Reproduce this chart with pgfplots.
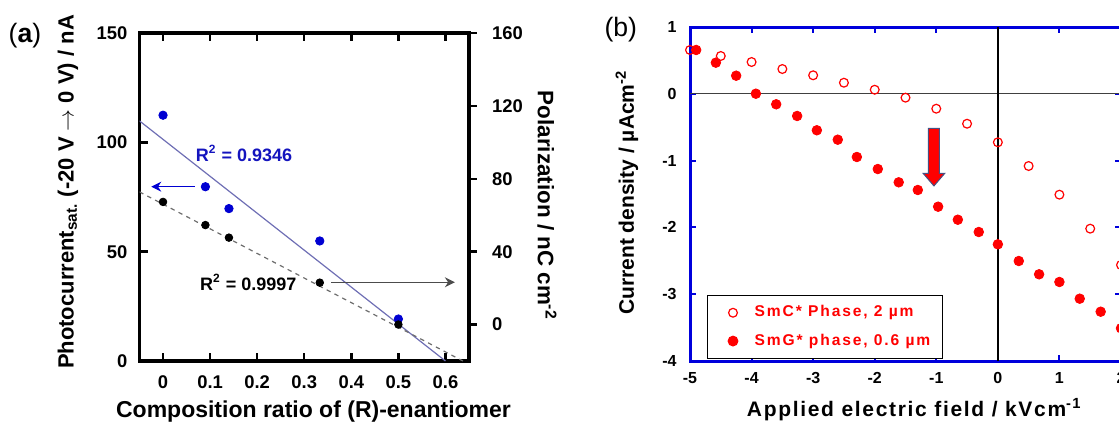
\documentclass[border=0pt]{standalone}
\usepackage{fontspec}
\setmainfont{Liberation Sans}
\usepackage{pgfplots}
\pgfplotsset{compat=1.18}
\usetikzlibrary{arrows.meta}

\definecolor{ptblue}{RGB}{0,0,210}
\definecolor{fitblue}{RGB}{110,110,180}
\definecolor{txtblue}{RGB}{20,20,190}
\definecolor{dashgray}{RGB}{110,110,110}
\definecolor{frameblue}{RGB}{0,0,220}
\definecolor{arrowedge}{RGB}{70,80,130}

\begin{document}
\begin{tikzpicture}
\useasboundingbox (0pt,0pt) rectangle (559.5pt,-214pt);
\clip (0pt,0pt) rectangle (559.5pt,-214pt);

% ---------------- Panel (a): left axis (photocurrent) ----------------
\begin{axis}[
  at={(69.75pt,-180.5pt)}, anchor=south west,
  scale only axis, width=164.75pt, height=164pt,
  xmin=-0.05, xmax=0.65, ymin=0, ymax=150,
  xtick={0,0.1,0.2,0.3,0.4,0.5,0.6},
  xticklabels={0,0.1,0.2,0.3,0.4,0.5,0.6},
  ytick={0,50,100,150},
  xtick pos=both, ytick pos=left,
  tick align=inside,
  major tick length=4pt,
  axis line style={line width=1.6pt},
  tick style={black, line width=1.2pt},
  /pgf/number format/assume math mode=true,
  ticklabel style={font=\bfseries\fontsize{9.2}{11}\selectfont},
  xticklabel style={yshift=-3.7pt},
  yticklabel style={xshift=-2.5pt},
]
\addplot[fitblue, line width=0.6pt] coordinates {(-0.05,109.8) (0.6,0)};
\addplot[only marks, mark=*, mark size=2.1pt, color=ptblue] coordinates {
  (0,112.4) (0.09,79.7) (0.14,69.7) (0.333,54.9) (0.5,19.2)};
\node[anchor=west, inner sep=0pt, text=txtblue, font=\bfseries\fontsize{9}{10}\selectfont]
  at (axis cs:0.069,95) {R\textsuperscript{2} = 0.9346};
\draw[-{Stealth[length=5pt,width=5pt]}, ptblue, line width=0.6pt]
  (axis cs:0.067,79.7) -- (axis cs:-0.025,79.7);
\end{axis}

% ---------------- Panel (a): right axis (polarization) ----------------
\begin{axis}[
  at={(69.75pt,-180.5pt)}, anchor=south west,
  scale only axis, width=164.75pt, height=164pt,
  xmin=-0.05, xmax=0.65, ymin=-20, ymax=160,
  axis x line=none, axis y line*=right,
  ytick={0,40,80,120,160},
  tick align=outside,
  major tick length=4pt,
  axis line style={line width=1.6pt, -},
  tick style={black, line width=1.2pt},
  /pgf/number format/assume math mode=true,
  ticklabel style={font=\bfseries\fontsize{9.2}{11}\selectfont},
  yticklabel style={xshift=4pt},
]
\addplot[dashgray, line width=0.6pt, dash pattern=on 2.2pt off 2.2pt] coordinates {(-0.05,72.8) (0.637,-20)};
\addplot[only marks, mark=*, mark size=1.9pt, black] coordinates {
  (0,67.3) (0.09,54.6) (0.14,47.7) (0.333,23.0) (0.5,0)};
\node[anchor=west, inner sep=0pt, text=black, font=\bfseries\fontsize{9}{10}\selectfont]
  at (axis cs:0.078,23.2) {R\textsuperscript{2} = 0.9997};
\draw[-{Stealth[length=5pt,width=5pt]}, black!70, line width=0.6pt]
  (axis cs:0.357,23.2) -- (axis cs:0.62,23.2);
\end{axis}

% ---------------- Panel (b) ----------------
\begin{axis}[
  at={(345pt,-180.5pt)}, anchor=south west,
  scale only axis, width=215.5pt, height=167pt,
  xmin=-5, xmax=2, ymin=-4, ymax=1,
  xtick={-5,-4,-3,-2,-1,0,1,2},
  ytick={-4,-3,-2,-1,0,1},
  xtick pos=both, ytick pos=both,
  tick align=inside,
  major tick length=3pt,
  axis line style={frameblue, line width=1.5pt},
  tick style={frameblue, line width=1pt},
  /pgf/number format/assume math mode=true,
  ticklabel style={font=\bfseries\fontsize{8}{9.6}\selectfont},
  xticklabel style={yshift=-2.2pt},
  yticklabel style={xshift=-3.2pt},
  legend cell align=left,
  legend image code/.code={\path (0cm,0cm) (0.6cm,0cm); \draw[#1] plot coordinates {(0.3cm,0cm)};},
  legend style={at={(rel axis cs:0.0388,0.1976)}, anchor=north west,
    draw=black, line width=0.6pt, inner xsep=4pt, inner ysep=3pt, row sep=3pt,
    font=\bfseries\fontsize{7.8}{9}\selectfont\addfontfeatures{LetterSpace=12},
    text=red},
]
\addplot[forget plot, black!75, line width=0.6pt] coordinates {(-5,0) (2,0)};
\addplot[forget plot, black, line width=1.2pt] coordinates {(0,-4) (0,1)};
\addplot[only marks, mark=o, mark size=2.2pt, red, mark options={line width=0.6pt}] coordinates {
  (-5.0,0.656) (-4.5,0.566) (-4.0,0.476) (-3.5,0.371) (-3.0,0.277)
  (-2.5,0.166) (-2.0,0.061) (-1.5,-0.058) (-1.0,-0.223) (-0.5,-0.448)
  (0.0,-0.726) (0.5,-1.081) (1.0,-1.510) (1.5,-2.019) (2.0,-2.563)};
\addlegendentry{SmC* Phase, 2 µm}
\addplot[only marks, mark=*, mark size=2.4pt, red] coordinates {
  (-4.90,0.656) (-4.58,0.466) (-4.25,0.271) (-3.93,0.0015) (-3.60,-0.157)
  (-3.26,-0.332) (-2.94,-0.546) (-2.60,-0.687) (-2.29,-0.946) (-1.95,-1.126)
  (-1.61,-1.325) (-1.30,-1.440) (-0.97,-1.690) (-0.65,-1.885) (-0.31,-2.069)
  (0.0,-2.253) (0.34,-2.503) (0.67,-2.702) (1.0,-2.817) (1.33,-3.067)
  (1.67,-3.262) (2.0,-3.510)};
\addlegendentry{SmG* phase, 0.6 µm}
\draw[fill=red, draw=arrowedge, line width=0.5pt]
  (axis cs:-1.127,-0.516) -- (axis cs:-0.949,-0.516) -- (axis cs:-0.949,-1.19)
  -- (axis cs:-0.862,-1.19) -- (axis cs:-1.038,-1.379) -- (axis cs:-1.214,-1.19)
  -- (axis cs:-1.127,-1.19) -- cycle;
\end{axis}

% ---------------- Labels ----------------
\node[font=\fontsize{13.3}{16}\selectfont] at (12.5pt,-17.75pt) {(\textbf{a})};
\node[font=\fontsize{13.3}{16}\selectfont] at (310.4pt,-14.6pt) {(b)};

\node[rotate=90, font=\bfseries\fontsize{11}{13}\selectfont] at (34pt,-96pt)
  {Photocurrent\textsubscript{sat.} (-20 V $\rightarrow$ 0 V) / nA};
\node[font=\bfseries\fontsize{11.5}{14}\selectfont] at (156.75pt,-206pt)
  {Composition ratio of (R)-enantiomer};
\node[rotate=-90, font=\bfseries\fontsize{11.2}{13}\selectfont] at (273.5pt,-102.7pt)
  {Polarization / nC cm\textsuperscript{-2}};

\node[rotate=90, font=\bfseries\fontsize{10.5}{12}\selectfont] at (313.5pt,-96.25pt)
  {Current density / µAcm\textsuperscript{-2}};
\node[font=\bfseries\fontsize{10.5}{12}\selectfont\addfontfeatures{LetterSpace=8}] at (457.1pt,-204.75pt)
  {Applied electric field / kVcm\textsuperscript{-1}};
\end{tikzpicture}
\end{document}
